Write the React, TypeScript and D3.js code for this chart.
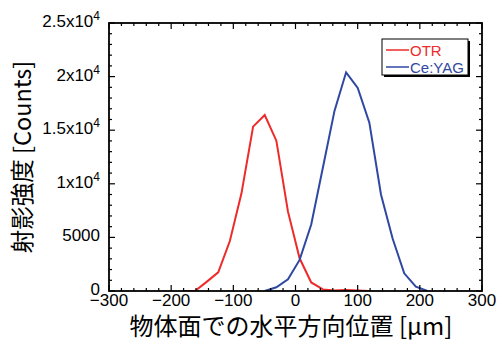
import React from "react";
import * as d3 from "d3";

const otrX = [-180.4, -161.7, -143, -124.3, -105.6, -86.9, -68.2, -49.5, -30.8, -12.1, 6.6, 25.3, 44, 62.7, 81.4, 100.1, 118.8];
const otrY = [0, 0, 850, 1740, 4660, 9110, 15330, 16420, 14020, 7400, 3050, 800, 150, 50, 100, 50, 0];
const yagX = [-49.5, -30.8, -12.1, 6.6, 25.3, 44, 62.7, 81.4, 100.1, 118.8, 137.5, 156.2, 174.9, 193.6, 212.3];
const yagY = [0, 350, 1100, 2900, 6200, 11500, 16800, 20400, 18950, 15700, 9000, 4900, 1650, 400, 0];
const xTicks = [-300, -200, -100, 0, 100, 200, 300];
const yTicks = [0, 5000, 10000, 15000, 20000, 25000];
const yTickLabels: [string, string][] = [["0", ""], ["5000", ""], ["1x10", "4"], ["1.5x10", "4"], ["2x10", "4"], ["2.5x10", "4"]];
const seriesNames = ["OTR", "Ce:YAG"];
const colors = ["#ee2a2a", "#2f48a2"];

const W = 499, H = 342;
const L = 109, R = 482, T = 23, B = 291;

export default function App() {
  const x = d3.scaleLinear().domain([-300, 300]).range([L, R]);
  const y = d3.scaleLinear().domain([0, 25000]).range([B, T]);
  const line = d3.line<[number, number]>().x(d => x(d[0])).y(d => y(d[1]));
  const otr = otrX.map((v, i) => [v, otrY[i]] as [number, number]);
  const yag = yagX.map((v, i) => [v, yagY[i]] as [number, number]);
  const xMinor = d3.range(-300, 301, 20);
  const yMinor = d3.range(0, 25001, 1000);
  const font = "Liberation Sans, Arial, sans-serif";
  const cjk = "'Noto Sans CJK JP', sans-serif";
  return (
    <svg width={W} height={H} style={{ position: "absolute", left: 0, top: 0, background: "#fff" }}>
      <defs>
        <clipPath id="clip"><rect x={L} y={T} width={R - L} height={B - T} /></clipPath>
      </defs>
      <g clipPath="url(#clip)">
        <path d={line(otr) || ""} fill="none" stroke={colors[0]} strokeWidth={2} />
        <path d={line(yag) || ""} fill="none" stroke={colors[1]} strokeWidth={2} />
      </g>
      {xMinor.map(v => {
        const len = v % 100 === 0 ? 6 : 3;
        return (
          <g key={"xt" + v} stroke="#000" strokeWidth={1.2}>
            <line x1={x(v)} x2={x(v)} y1={B} y2={B - len} />
            <line x1={x(v)} x2={x(v)} y1={T} y2={T + len} />
          </g>
        );
      })}
      {yMinor.map(v => {
        const len = v % 5000 === 0 ? 6 : 3;
        return (
          <g key={"yt" + v} stroke="#000" strokeWidth={1.2}>
            <line x1={L} x2={L + len} y1={y(v)} y2={y(v)} />
            <line x1={R} x2={R - len} y1={y(v)} y2={y(v)} />
          </g>
        );
      })}
      <rect x={L} y={T} width={R - L} height={B - T} fill="none" stroke="#000" strokeWidth={1.8} />
      {xTicks.map(v => (
        <text key={"xl" + v} x={x(v)} y={B + 15} textAnchor="middle" fontFamily={font} fontSize={17}>
          {v < 0 ? "\u2212" + Math.abs(v) : v}
        </text>
      ))}
      {yTicks.map((v, i) => (
        <text key={"yl" + v} x={L - 9} y={y(v) + 4} textAnchor="end" fontFamily={font} fontSize={17}>
          {yTickLabels[i][0]}
          {yTickLabels[i][1] && <tspan fontSize={12} dy={-7}>{yTickLabels[i][1]}</tspan>}
        </text>
      ))}
      <text x={291} y={335} textAnchor="middle" fontFamily={cjk} fontSize={24}>
        物体面での水平方向位置 [μm]
      </text>
      <text transform={`translate(31,157) rotate(-90)`} textAnchor="middle" fontFamily={cjk} fontSize={23.5}>
        射影強度 [Counts]
      </text>
      <g>
        <rect x={384} y={41} width={86} height={36} fill="#000" />
        <rect x={382} y={39} width={86} height={36} fill="#fff" stroke="#000" strokeWidth={1} />
        {seriesNames.map((n, i) => (
          <g key={n}>
            <line x1={386} x2={409} y1={50 + i * 17} y2={50 + i * 17} stroke={colors[i]} strokeWidth={1.5} />
            <text x={410} y={55.5 + i * 17} fontFamily={font} fontSize={15} fill={colors[i]}>{n}</text>
          </g>
        ))}
      </g>
    </svg>
  );
}
